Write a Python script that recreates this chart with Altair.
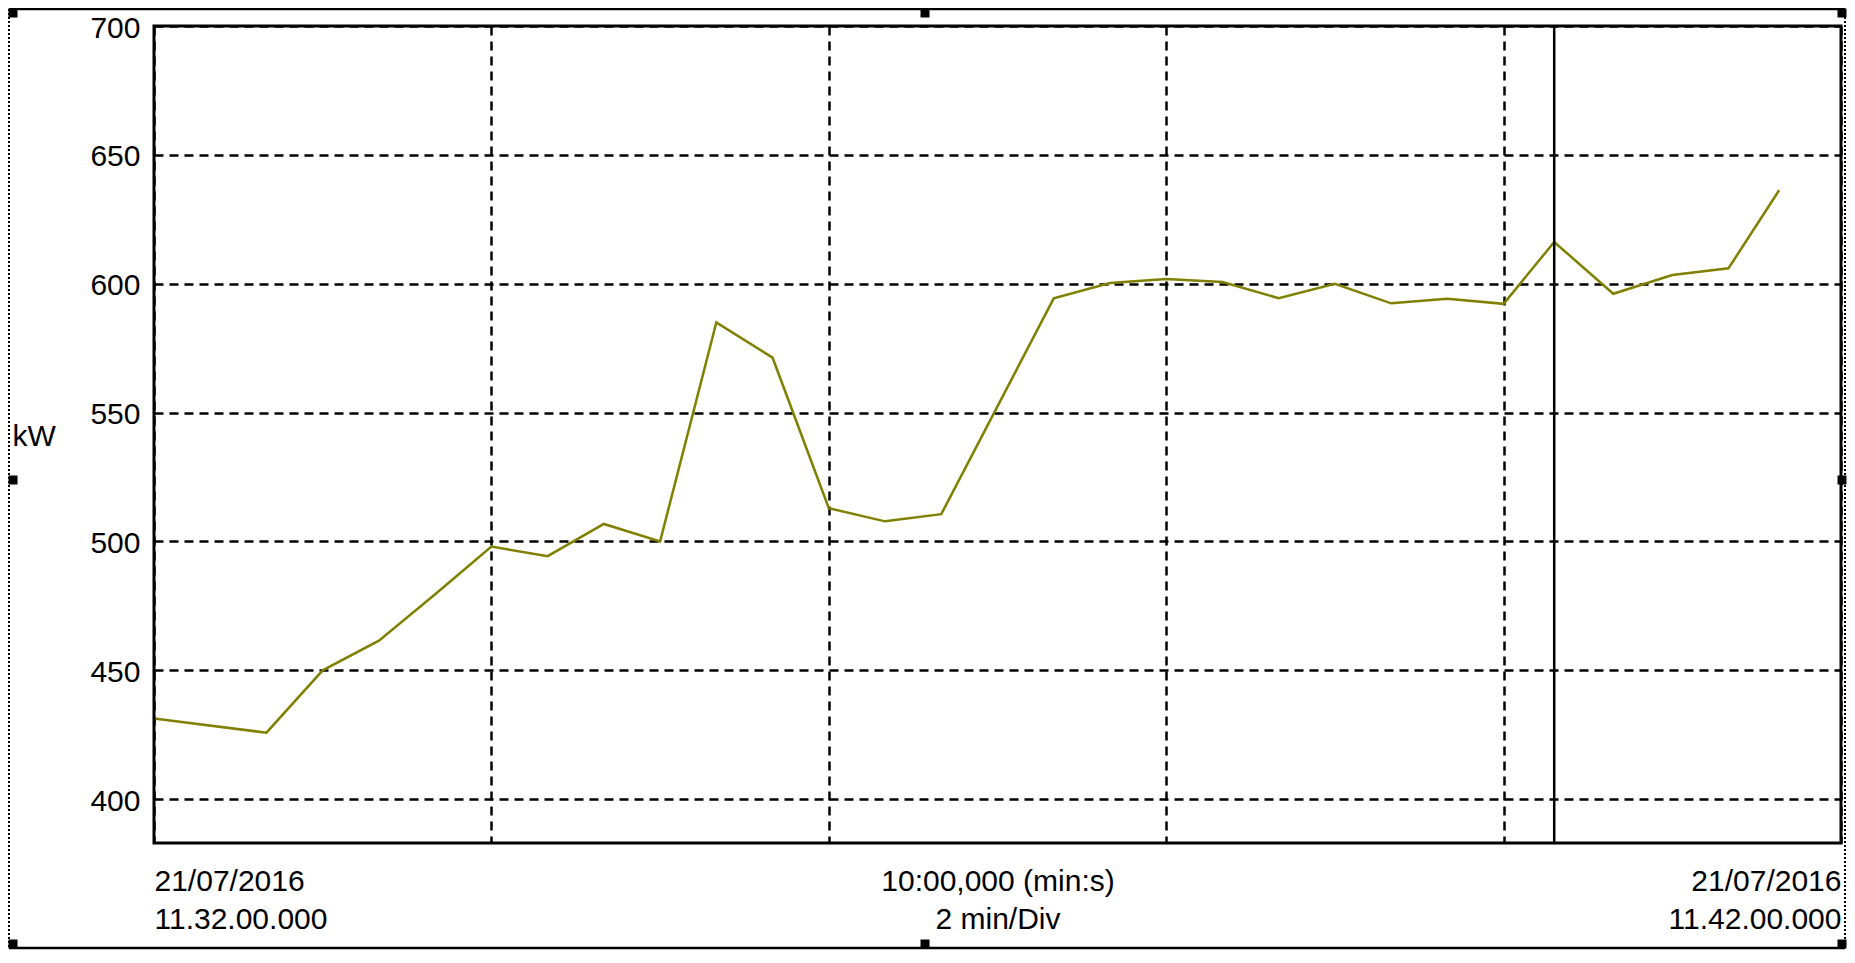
import altair as alt
import pandas as pd

# seconds after 21/07/2016 11:32:00
t_sec = [0, 40, 60, 80, 100, 120, 140, 160, 180, 200, 220, 240, 260, 280,
         320, 340, 360, 380, 400, 420, 440, 460, 480, 498, 519, 540, 560, 578]
kw = [431.3, 425.8, 450.0, 461.5, 479.5, 498.0, 494.3, 506.8, 500.0, 585.0,
      571.3, 512.9, 507.8, 510.6, 594.3, 600.3, 601.8, 600.7, 594.4, 600.0,
      592.4, 594.2, 592.2, 616.2, 596.1, 603.4, 606.0, 636.3]
cursor_sec = [498]

x_ticks = [0, 120, 240, 360, 480, 600]
y_ticks = [400, 450, 500, 550, 600, 650, 700]
left_label = ["21/07/2016", "11.32.00.000"]
right_label = ["21/07/2016", "11.42.00.000"]
x_title = ["10:00,000 (min:s)", "2 min/Div"]
y_title = "kW"

FONT = "Liberation Sans"
FS = 30

df = pd.DataFrame({"t": t_sec, "kw": kw})

xscale = alt.Scale(domain=[0, 600], nice=False, zero=False)
yscale = alt.Scale(domain=[383, 700], nice=False, zero=False)

label_expr = (
    "datum.value == 0 ? ['%s','%s'] : (datum.value == 600 ? ['%s','%s'] : '')"
    % (left_label[0], left_label[1], right_label[0], right_label[1])
)

x_axis = alt.Axis(
    values=x_ticks, grid=True, gridDash=[9, 6], gridColor="black", gridWidth=2.5,
    gridOpacity=1, ticks=False, domain=False, labelExpr=label_expr, labelFlush=True,
    labelFont=FONT, labelFontSize=FS, labelColor="black", labelBaseline="top",
    labelPadding=23, labelLineHeight=38, labelOverlap=False,
    title=x_title, titleFont=FONT, titleFontSize=FS, titleFontWeight="normal",
    titleColor="black", titleBaseline="top", titleY=23, titleLineHeight=38,
)
y_axis = alt.Axis(
    values=y_ticks, grid=True, gridDash=[9, 6], gridColor="black", gridWidth=2.5,
    gridOpacity=1, ticks=False, domain=False, labelFont=FONT, labelFontSize=FS,
    labelColor="black", labelPadding=14, labelOffset=2,
    title=y_title, titleFont=FONT, titleFontSize=FS, titleFontWeight="normal",
    titleColor="black", titleAngle=0, titleAlign="left", titleBaseline="middle",
    titleX=-142, titleY=410,
)

line = alt.Chart(df).mark_line(color="#808000", strokeWidth=2.5).encode(
    x=alt.X("t:Q", scale=xscale, axis=x_axis),
    y=alt.Y("kw:Q", scale=yscale, axis=y_axis),
)

cursor = alt.Chart(pd.DataFrame({"t": cursor_sec})).mark_rule(
    color="black", strokeWidth=2.5
).encode(x=alt.X("t:Q", scale=xscale))

# plot border drawn explicitly (solid, thick)
border = alt.Chart(alt.Data(values=[{}])).mark_rect(
    fill=None, stroke="black", strokeWidth=3
).encode(x=alt.value(0), x2=alt.value(1687), y=alt.value(0), y2=alt.value(817))

# outer selection frame (decoration)
dummy = alt.Data(values=[{}])
top_rule = alt.Chart(dummy).mark_rule(color="black", strokeWidth=2.5).encode(
    x=alt.value(-145), x2=alt.value(1691), y=alt.value(-17))
bottom_rule = alt.Chart(dummy).mark_rule(color="black", strokeWidth=2.5).encode(
    x=alt.value(-145), x2=alt.value(1691), y=alt.value(922))
left_rule = alt.Chart(dummy).mark_rule(color="black", strokeWidth=2, strokeDash=[2, 2]).encode(
    x=alt.value(-145), y=alt.value(-17), y2=alt.value(922))
right_rule = alt.Chart(dummy).mark_rule(color="black", strokeWidth=2, strokeDash=[2, 2]).encode(
    x=alt.value(1691), y=alt.value(-17), y2=alt.value(922))

handles_px = pd.DataFrame({
    "hx": [-141, 771, 1688, -141, 1688, -141, 771, 1688],
    "hy": [-13, -13, -13, 454, 454, 918, 918, 918],
})
handles = alt.Chart(handles_px).mark_square(size=81, color="black", opacity=1).encode(
    x=alt.X("hx:Q", scale=None), y=alt.Y("hy:Q", scale=None))

chart = alt.layer(
    line, cursor, border, top_rule, bottom_rule, left_rule, right_rule, handles
).properties(
    width=1687, height=817,
    padding={"left": 146, "top": 18, "right": 6, "bottom": 108},
    autosize=alt.AutoSizeParams(type="none"),
).configure(
    background="white"
).configure_view(
    stroke=None
)

chart.save("out.html", embed_options={"renderer": "svg", "actions": False})
